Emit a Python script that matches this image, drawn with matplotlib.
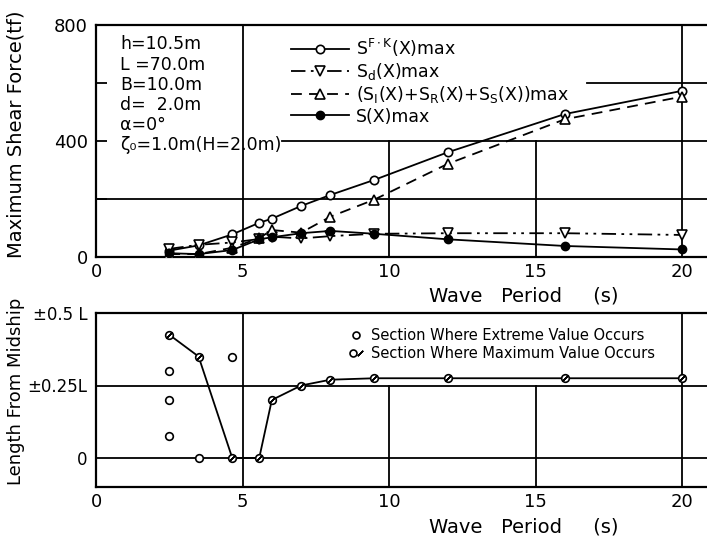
import matplotlib
matplotlib.use("Agg")
import matplotlib.pyplot as plt
from matplotlib.lines import Line2D
from matplotlib.legend_handler import HandlerTuple

plt.rcParams["font.family"] = ["DejaVu Sans"]
plt.rcParams["mathtext.default"] = "regular"

# wave periods (s)
periods = [2.5, 3.5, 4.65, 5.57, 6.0, 7.0, 8.0, 9.5, 12.0, 16.0, 20.0]

# maximum shear force (tf)
s_fk_max = [22, 40, 78, 118, 132, 176, 214, 266, 361, 493, 573]
s_d_max = [28, 42, 50, 62, 70, 64, 72, 80, 82, 82, 76]
s_irs_max = [10, 10, 32, 65, 93, 84, 139, 198, 321, 475, 553]
s_max = [13, 10, 24, 61, 68, 82, 90, 80, 61, 38, 26]

# section where extreme / maximum value occurs (fraction of L)
ext_periods = [2.5, 2.5, 2.5, 3.5, 4.65]
ext_pos = [0.30, 0.20, 0.075, 0.0, 0.35]
max_pos = [0.425, 0.35, 0.0, 0.0, 0.20, 0.25, 0.27, 0.275, 0.275, 0.275, 0.275]

x_ticks = [0, 5, 10, 15, 20]
x_max = 20.85

LW = 1.3
GRID = dict(color="black", lw=1.3, zorder=0)

fig = plt.figure(figsize=(7.07, 5.40), dpi=100)
ax1 = fig.add_axes([96 / 707, 1 - 257 / 540, 611 / 707, 232 / 540])
ax2 = fig.add_axes([96 / 707, 1 - 487 / 540, 611 / 707, 174 / 540])

for ax, xl_y in ((ax1, -0.17), (ax2, -0.23)):
    ax.set_xlim(0, x_max)
    ax.set_xticks(x_ticks)
    ax.set_xticklabels([str(t) for t in x_ticks], fontsize=13)
    ax.tick_params(axis="x", length=0, pad=4)
    ax.tick_params(axis="y", direction="in", length=8, width=1.3, labelsize=13, pad=6)
    ax.spines["right"].set_visible(False)
    for s in ("left", "top", "bottom"):
        ax.spines[s].set_linewidth(1.6)
    ax.text(0.70, xl_y, "Wave   Period     (s)", transform=ax.transAxes,
            ha="center", va="center", fontsize=14)

# ---- top panel ----
ax1.set_ylim(0, 800)
ax1.set_yticks([0, 200, 400, 600, 800])
ax1.set_yticklabels(["0", "", "400", "", "800"])
ax1.axvline(5, **GRID)
ax1.axvline(20, **GRID)
ax1.axvline(10, ymax=0.5, **GRID)
ax1.axvline(15, ymax=0.5, **GRID)
ax1.axhline(200, **GRID)
ax1.axhline(400, xmin=6.35 / x_max, **GRID)
ax1.axhline(600, xmin=16.75 / x_max, **GRID)

ax1.plot(periods, s_fk_max, "-", color="black", lw=LW, marker="o", ms=6,
         mfc="white", mec="black", mew=1.2, label=r"$S^{F\cdot K}$(X)max", zorder=3)
ax1.plot(periods, s_d_max, color="black", lw=LW, ls=(0, (8, 3, 1.5, 3, 1.5, 3)),
         marker="v", ms=7, mfc="white", mec="black", mew=1.2,
         label=r"$S_d$(X)max", zorder=3)
ax1.plot(periods, s_irs_max, color="black", lw=LW, ls=(0, (6, 4)), marker="^", ms=7,
         mfc="white", mec="black", mew=1.2,
         label=r"($S_I$(X)+$S_R$(X)+$S_S$(X))max", zorder=3)
ax1.plot(periods, s_max, "-", color="black", lw=LW, marker="o", ms=6,
         mfc="black", mec="black", label="S(X)max", zorder=4)

ax1.legend(loc="upper left", bbox_to_anchor=(0.30, 1.0), frameon=False,
           fontsize=12.5, handlelength=3.3, handletextpad=0.4,
           labelspacing=0.12, borderpad=0.2)

ax1.text(0.04, 0.955, "h=10.5m\nL =70.0m\nB=10.0m\nd=  2.0m\nα=0°\nζ₀=1.0m(H=2.0m)",
         transform=ax1.transAxes, ha="left", va="top", fontsize=12.5, linespacing=1.15)
ax1.set_ylabel("Maximum Shear Force(tf)", fontsize=14)
ax1.yaxis.set_label_coords(-0.116, 0.53)

# ---- bottom panel ----
ax2.set_ylim(-0.1, 0.5)
ax2.set_yticks([0, 0.25, 0.5])
ax2.set_yticklabels(["0", "±0.25L", "±0.5 L"])
ax2.tick_params(axis="y", length=0, labelsize=12)
ax2.axvline(5, **GRID)
ax2.axvline(20, **GRID)
ax2.axvline(10, ymax=0.35 / 0.6, **GRID)
ax2.axvline(15, ymax=0.35 / 0.6, **GRID)
ax2.axhline(0, **GRID)
ax2.axhline(0.25, **GRID)

ax2.plot(ext_periods, ext_pos, ls="none", marker="o", ms=5.5, mfc="white",
         mec="black", mew=1.2, zorder=3)
ax2.plot(periods, max_pos, "-", color="black", lw=LW, marker="o", ms=5.5,
         mfc="white", mec="black", mew=1.2, zorder=3)
ax2.plot(periods, max_pos, ls="none", marker=(2, 2, -45), ms=6, mec="black",
         mew=1.0, zorder=4)

h_ext = Line2D([], [], ls="none", marker="o", ms=5, mfc="white", mec="black", mew=1.2)
h_max_o = Line2D([], [], ls="none", marker="o", ms=5, mfc="white", mec="black", mew=1.2)
h_max_s = Line2D([], [], ls="none", marker=(2, 2, -45), ms=5.5, mec="black", mew=1.0)
ax2.legend([h_ext, (h_max_o, h_max_s)],
           ["Section Where Extreme Value Occurs", "Section Where Maximum Value Occurs"],
           handler_map={tuple: HandlerTuple(ndivide=None)},
           loc="upper left", bbox_to_anchor=(0.40, 0.97), frameon=False,
           fontsize=10.5, handlelength=0.8, handletextpad=0.6,
           labelspacing=0.15, borderpad=0.2)

ax2.set_ylabel("Length From Midship", fontsize=13)
ax2.yaxis.set_label_coords(-0.116, 0.55)

fig.savefig("out.png", dpi=100)
